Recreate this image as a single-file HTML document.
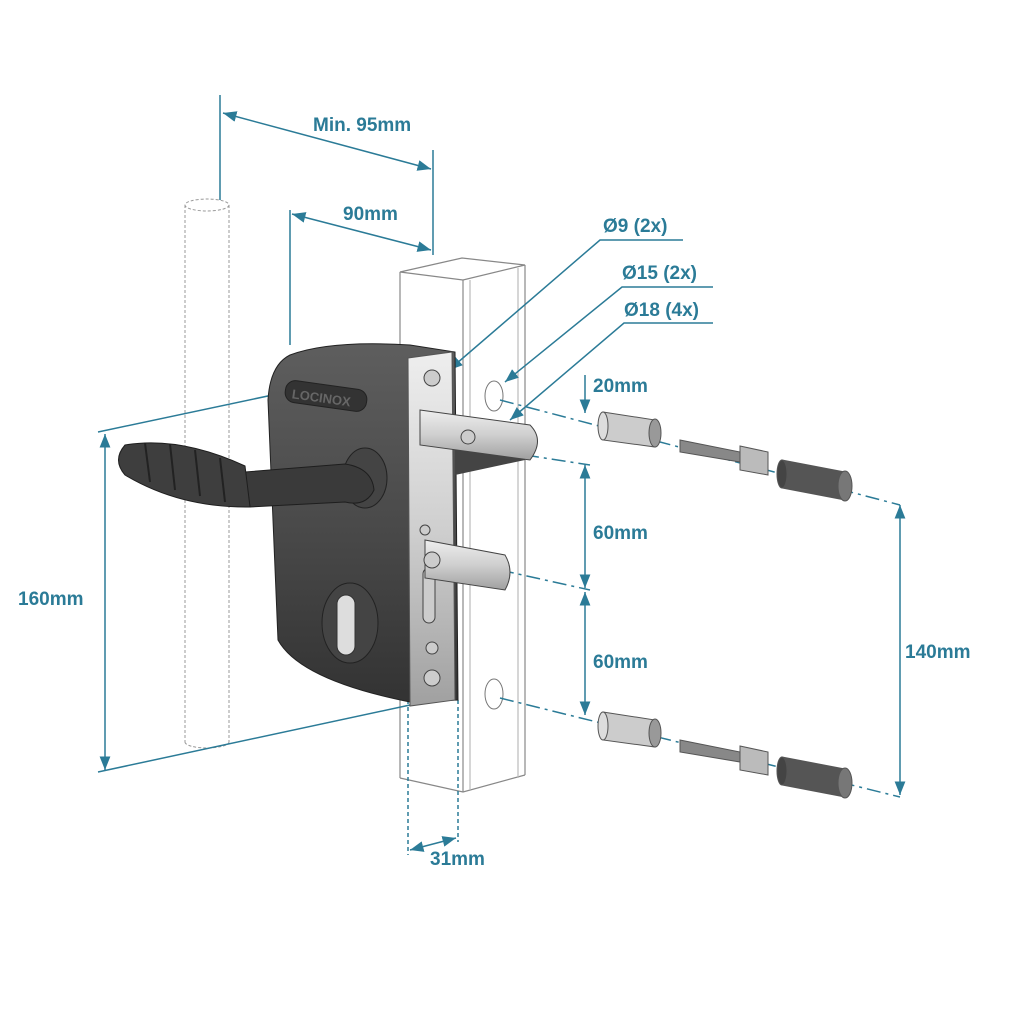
<!DOCTYPE html>
<html><head><meta charset="utf-8"><style>
html,body{margin:0;padding:0;background:#fff}
svg{display:block}
text{font-family:"Liberation Sans",sans-serif;font-weight:bold;font-size:19px;fill:#2b7b97}
</style></head><body>
<svg width="1024" height="1024" viewBox="0 0 1024 1024">
<defs>
<marker id="a" viewBox="0 0 10 10" refX="10" refY="5" markerWidth="9" markerHeight="9" orient="auto-start-reverse"><path d="M0,1 L10,5 L0,9 z" fill="#2b7b97"/></marker>
<linearGradient id="sil" x1="0" y1="0" x2="0" y2="1"><stop offset="0" stop-color="#eee"/><stop offset="0.5" stop-color="#cfcfcf"/><stop offset="1" stop-color="#a0a0a0"/></linearGradient>
<linearGradient id="dk" x1="0" y1="0" x2="0" y2="1"><stop offset="0" stop-color="#5e5e5e"/><stop offset="0.5" stop-color="#4a4a4a"/><stop offset="1" stop-color="#333"/></linearGradient>
</defs>
<g fill="none" stroke="#999" stroke-width="1" stroke-dasharray="3,2">
<ellipse cx="207" cy="205" rx="22" ry="6"/>
<line x1="185" y1="205" x2="185" y2="742"/><line x1="229" y1="205" x2="229" y2="742"/>
<path d="M185,742 A22,6 0 0 0 229,742"/>
</g>
<g fill="none" stroke="#888" stroke-width="1.2">
<path d="M400,272 L462,258 L525,265 L463,280 Z"/>
<line x1="400" y1="272" x2="400" y2="778"/>
<line x1="463" y1="280" x2="463" y2="792"/>
<line x1="525" y1="265" x2="525" y2="775"/>
<path d="M400,778 L463,792 L525,775"/>
<line x1="470" y1="280" x2="470" y2="790" stroke="#bbb"/>
<line x1="518" y1="268" x2="518" y2="778" stroke="#bbb"/>
</g>
<g fill="#fff" stroke="#777"><ellipse cx="494" cy="396" rx="9" ry="15"/><ellipse cx="494" cy="694" rx="9" ry="15"/></g>
<g stroke="#2b7b97" stroke-width="1.5" fill="none">
<line x1="220" y1="95" x2="220" y2="200"/><line x1="433" y1="150" x2="433" y2="255"/>
<line x1="223" y1="113" x2="431" y2="169" marker-start="url(#a)" marker-end="url(#a)"/>
<line x1="290" y1="210" x2="290" y2="345"/>
<line x1="292" y1="214" x2="431" y2="250" marker-start="url(#a)" marker-end="url(#a)"/>
<line x1="98" y1="432" x2="400" y2="368"/><line x1="98" y1="772" x2="410" y2="705"/>
<line x1="105" y1="434" x2="105" y2="770" marker-start="url(#a)" marker-end="url(#a)"/>
<line x1="900" y1="505" x2="900" y2="795" marker-start="url(#a)" marker-end="url(#a)"/>
<line x1="585" y1="465" x2="585" y2="588" marker-start="url(#a)" marker-end="url(#a)"/>
<line x1="585" y1="592" x2="585" y2="715" marker-start="url(#a)" marker-end="url(#a)"/>
<line x1="585" y1="375" x2="585" y2="413" marker-end="url(#a)"/>
<line x1="410" y1="850" x2="456" y2="838" marker-start="url(#a)" marker-end="url(#a)"/>
<g stroke-dasharray="4,3"><line x1="408" y1="700" x2="408" y2="855"/><line x1="458" y1="700" x2="458" y2="842"/></g>
<g stroke-dasharray="14,5,3,5">
<line x1="500" y1="400" x2="900" y2="505"/><line x1="525" y1="455" x2="590" y2="465"/>
<line x1="500" y1="570" x2="590" y2="590"/><line x1="500" y1="698" x2="900" y2="797"/>
</g>
<polyline points="683,240 600,240 449,370" marker-end="url(#a)"/>
<polyline points="713,287 622,287 505,382" marker-end="url(#a)"/>
<polyline points="713,323 624,323 510,420" marker-end="url(#a)"/>
</g>
<path d="M290,355 Q330,340 410,345 L455,352 L458,700 L410,702 Q300,680 278,640 L268,400 Q270,365 290,355 Z" fill="url(#dk)" stroke="#222"/>
<rect x="285" y="385" width="82" height="22" rx="10" fill="#333" stroke="#222" transform="rotate(8 326 396)"/>
<text x="292" y="403" style="font-size:13px;fill:#666" transform="rotate(8 326 396)">LOCINOX</text>
<ellipse cx="365" cy="478" rx="22" ry="30" fill="#444" stroke="#222"/>
<ellipse cx="350" cy="623" rx="28" ry="40" fill="#444" stroke="#222"/>
<rect x="337" y="595" width="18" height="60" rx="9" fill="#ddd" stroke="#333"/>
<path d="M455,420 L525,430 L525,460 L455,475 Z" fill="#444"/>
<path d="M408,358 L452,352 L455,700 L410,706 Z" fill="url(#sil)" stroke="#555"/>
<rect x="423" y="568" width="12" height="55" rx="6" fill="#ccc" stroke="#444"/>
<g fill="#ccc" stroke="#444"><circle cx="432" cy="378" r="8"/><circle cx="432" cy="678" r="8"/><circle cx="425" cy="530" r="5"/><circle cx="432" cy="648" r="6"/></g>
<path d="M420,410 L530,425 Q545,440 530,460 L420,445 Z" fill="url(#sil)" stroke="#444"/>
<circle cx="468" cy="437" r="7" fill="#ccc" stroke="#444"/>
<path d="M425,540 L505,555 Q515,572 505,590 L425,578 Z" fill="url(#sil)" stroke="#444"/>
<circle cx="432" cy="560" r="8" fill="#ccc" stroke="#444"/>
<path d="M245,472 L345,464 Q372,468 374,490 Q366,507 345,502 L250,507 Z" fill="#3a3a3a" stroke="#1e1e1e"/>
<path d="M125,445 Q180,436 245,466 L250,507 Q180,508 125,475 Q112,460 125,445 Z" fill="#3e3e3e" stroke="#1e1e1e"/>
<g stroke="#222" stroke-width="2"><line x1="145" y1="443" x2="150" y2="482"/><line x1="170" y1="444" x2="175" y2="490"/><line x1="195" y1="450" x2="200" y2="496"/><line x1="220" y1="458" x2="225" y2="502"/></g>
<g stroke="#555">
<path d="M603,412 L655,420 L655,447 L603,440 Z" fill="#ccc"/><ellipse cx="603" cy="426" rx="5" ry="14" fill="#ddd"/><ellipse cx="655" cy="433" rx="6" ry="14" fill="#999"/>
<path d="M603,712 L655,720 L655,747 L603,740 Z" fill="#ccc"/><ellipse cx="603" cy="726" rx="5" ry="14" fill="#ddd"/><ellipse cx="655" cy="733" rx="6" ry="14" fill="#999"/>
<path d="M680,440 L740,452 L740,462 L680,452 Z" fill="#888"/><path d="M740,446 L768,452 L768,475 L740,470 Z" fill="#bbb"/>
<path d="M680,740 L740,752 L740,762 L680,752 Z" fill="#888"/><path d="M740,746 L768,752 L768,775 L740,770 Z" fill="#bbb"/>
<path d="M782,460 L845,472 L845,500 L782,488 Z" fill="#555"/><ellipse cx="782" cy="474" rx="5" ry="14" fill="#444"/><ellipse cx="845" cy="486" rx="7" ry="15" fill="#777"/>
<path d="M782,757 L845,769 L845,797 L782,785 Z" fill="#555"/><ellipse cx="782" cy="771" rx="5" ry="14" fill="#444"/><ellipse cx="845" cy="783" rx="7" ry="15" fill="#777"/>
</g>
<text x="313" y="131">Min. 95mm</text>
<text x="343" y="220">90mm</text>
<text x="603" y="232">Ø9 (2x)</text>
<text x="622" y="279">Ø15 (2x)</text>
<text x="624" y="316">Ø18 (4x)</text>
<text x="593" y="392">20mm</text>
<text x="593" y="539">60mm</text>
<text x="593" y="668">60mm</text>
<text x="18" y="605">160mm</text>
<text x="905" y="658">140mm</text>
<text x="430" y="865">31mm</text>
</svg>
</body></html>
